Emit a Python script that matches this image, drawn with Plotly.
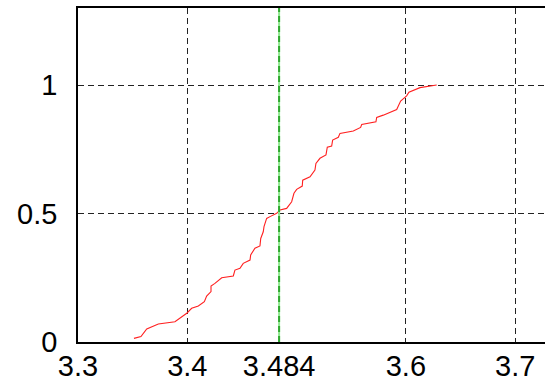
import plotly.graph_objects as go

cdf_x = [3.3512, 3.3576, 3.3629, 3.3735, 3.3887, 3.3995, 3.4040, 3.4101, 3.4156, 3.4177,
         3.4217, 3.4217, 3.4253, 3.4315, 3.4421, 3.4436, 3.4482, 3.4512, 3.4574, 3.4580,
         3.4619, 3.4665, 3.4672, 3.4695, 3.4702, 3.4726, 3.4757, 3.4818, 3.4848, 3.4909,
         3.4955, 3.4976, 3.5001, 3.5052, 3.5056, 3.5123, 3.5168, 3.5177, 3.5214, 3.5269,
         3.5281, 3.5321, 3.5330, 3.5382, 3.5397, 3.5519, 3.5586, 3.5596, 3.5726, 3.5733,
         3.5793, 3.5916, 3.5952, 3.6007, 3.6028, 3.6129, 3.6282]
cdf_y = [0.014, 0.021, 0.051, 0.070, 0.079, 0.112, 0.131, 0.140, 0.157, 0.179,
         0.196, 0.218, 0.228, 0.250, 0.257, 0.280, 0.287, 0.306, 0.319, 0.339,
         0.365, 0.374, 0.403, 0.429, 0.449, 0.481, 0.488, 0.501, 0.514, 0.520,
         0.546, 0.579, 0.594, 0.607, 0.630, 0.643, 0.669, 0.695, 0.715, 0.728,
         0.758, 0.763, 0.786, 0.797, 0.812, 0.821, 0.835, 0.847, 0.857, 0.874,
         0.883, 0.905, 0.938, 0.958, 0.972, 0.990, 1.000]

median_x = 3.484
x_ticks = [3.3, 3.4, 3.484, 3.6, 3.7]
x_tick_text = ["3.3", "3.4", "3.484", "3.6", "3.7"]
y_ticks = [0, 0.5, 1]
y_tick_text = ["0", "0.5", "1"]
x_range = [3.3, 3.7273]
y_range = [0, 1.3]

fig = go.Figure()
fig.add_trace(go.Scatter(x=cdf_x, y=cdf_y, mode="lines",
                         line=dict(color="#ff2020", width=1.1), showlegend=False,
                         hoverinfo="skip"))
fig.add_trace(go.Scatter(x=[median_x, median_x], y=y_range, mode="lines",
                         line=dict(color="#8de88d", width=2), showlegend=False,
                         hoverinfo="skip"))
fig.add_trace(go.Scatter(x=[median_x, median_x], y=y_range, mode="lines",
                         line=dict(color="#2fa82f", width=2, dash="6px,4px"),
                         showlegend=False, hoverinfo="skip"))

font = dict(family="Liberation Sans, Arial, sans-serif", size=29, color="black")
fig.update_layout(
    width=545, height=384,
    margin=dict(l=78, r=0, t=8, b=42),
    paper_bgcolor="white", plot_bgcolor="white",
    font=font,
    xaxis=dict(range=x_range, tickvals=x_ticks, ticktext=x_tick_text,
               showgrid=True, gridcolor="#222", gridwidth=1, griddash="6px,4px",
               zeroline=False, showline=True, linecolor="black", linewidth=1.5,
               mirror=True, ticks="", ticklabelstandoff=-3, tickfont=font,
               automargin=False),
    yaxis=dict(range=y_range, tickvals=y_ticks, ticktext=y_tick_text,
               showgrid=True, gridcolor="#222", gridwidth=1, griddash="6px,4px",
               zeroline=False, showline=True, linecolor="black", linewidth=1.5,
               mirror=False, ticks="", ticklabelstandoff=13, tickfont=font,
               automargin=False),
)
fig.write_html("out.html")
